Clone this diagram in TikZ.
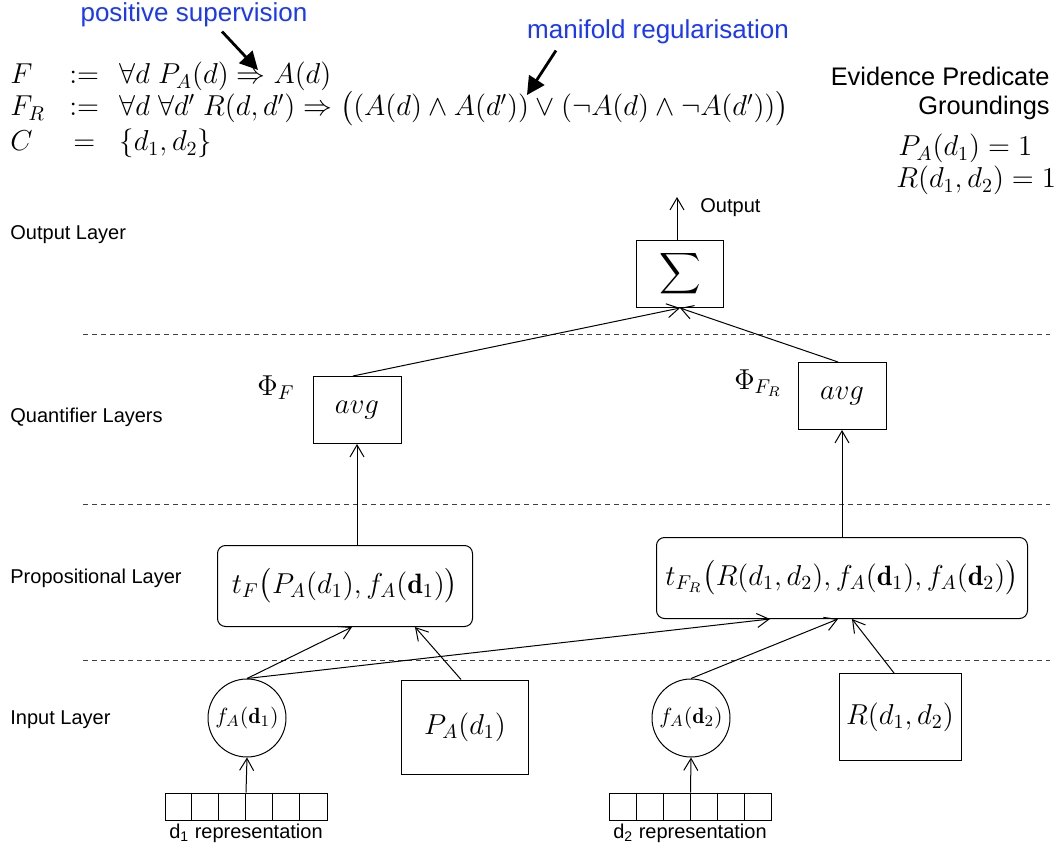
\documentclass[tikz,border=0pt]{standalone}
\usepackage{fontspec}
\usepackage{amsmath}
\usetikzlibrary{arrows.meta,positioning}
\newfontfamily\labfont{Liberation Sans}
\definecolor{annoblue}{RGB}{25,55,255}
\newcommand\labtext{\labfont\fontsize{10}{12}\selectfont}
\newcommand\annotext{\labfont\fontsize{13}{15}\selectfont}
\newcommand\mathtext{\fontsize{14}{16}\selectfont}
\newcommand\formtext{\fontsize{14.6}{17}\selectfont}

\begin{document}
\begin{tikzpicture}[x=0.5pt,y=-0.5pt,
  layer/.style={font=\labtext, anchor=west, inner sep=0pt},
  sep/.style={black!75, line width=0.5pt, dash pattern=on 2.5pt off 2pt},
  sqbox/.style={draw, line width=0.5pt, inner sep=0pt, font=\mathtext},
  tbox/.style={sqbox, rounded corners=4pt, minimum height=40.5pt},
  unit/.style={draw, circle, line width=0.5pt, inner sep=0pt, minimum size=39pt, font=\fontsize{11}{13}\selectfont},
  vecbox/.style={draw, line width=0.5pt, minimum width=81pt, minimum height=13.5pt, inner sep=0pt},
  conn/.style={-{Straight Barb[length=6pt,width=7pt]}, line width=0.5pt},
  anno/.style={-{Triangle[length=9pt,width=9pt]}, line width=1.4pt},
  form/.style={anchor=base west, inner sep=0pt, font=\formtext, text height=0.7em, text depth=0.2em}]

\useasboundingbox (0,0) rectangle (1056,850);

% layer names and separators
\node[layer] (lout) at (10,235) {Output Layer};
\node[layer] (lquant) at (10,417) {Quantifier Layers};
\node[layer] (lprop) at (10,578) {Propositional Layer};
\node[layer] (linp) at (10,720) {Input Layer};
\foreach \y in {335,505,660} \draw[sep] (83,\y) -- (1050,\y);

% the formulas
\node[form] (f1a) at (10,84) {$F$};
\node[form] (f1b) at (69,84) {$:=$};
\node[form] (f1c) at (119,84) {$\forall d\;P_A(d)\Rightarrow A(d)$};
\node[form] (f2a) at (10,116) {$F_R$};
\node[form] (f2b) at (69,116) {$:=$};
\node[form] (f2c) at (119,116) {$\forall d\;\forall d'\;R(d,d')\Rightarrow\big((A(d)\wedge A(d'))\vee(\neg A(d)\wedge\neg A(d'))\big)$};
\node[form] (f3a) at (10,151) {$C$};
\node[form] (f3b) at (73,151) {$=$};
\node[form] (f3c) at (119,151) {$\{d_1,d_2\}$};

\node[anchor=base east, inner sep=0pt, font=\labfont\fontsize{12.7}{14}\selectfont] (ev1) at (1050,86) {Evidence Predicate};
\node[anchor=base east, inner sep=0pt, font=\labfont\fontsize{12.7}{14}\selectfont] (ev2) at (1050,115) {Groundings};
\node[form, font=\mathtext] (g1) at (898,156) {$P_A(d_1)=1$};
\node[form, font=\mathtext] (g2) at (896,188) {$R(d_1,d_2)=1$};

% notes
\node[text=annoblue, font=\annotext, inner sep=0pt] (ps) at (194,15) {positive supervision};
\node[text=annoblue, font=\annotext, inner sep=0pt] (mr) at (658,32) {manifold regularisation};
\coordinate (pstip) at (258,70);
\coordinate (mrtip) at (527,95);
\draw[anno] ([xshift=14pt,yshift=-2pt]ps.south) -- (pstip);
\draw[anno] ([xshift=-51pt,yshift=-3pt]mr.south) -- (mrtip);

% network
\node[sqbox, minimum width=43.5pt, minimum height=33.5pt] (sigma) at (680,274) {$\displaystyle\sum$};
\coordinate (out) at ([xshift=-1.5pt,yshift=21.5pt]sigma.north);
\node[layer] (outlbl) at (700,208) {Output};

\node[sqbox, minimum width=44pt, minimum height=33.5pt] (avgF) at (357,410) {$avg$};
\node[sqbox, minimum width=44pt, minimum height=33.5pt] (avgFR) at (842,396) {$avg$};
\node[font=\mathtext] (phiF) at (276,388) {$\Phi_F$};
\node[font=\mathtext] (phiFR) at (758,383) {$\Phi_{F_R}$};

\node[tbox, minimum width=127.5pt] (tF) at (345,586) {$t_F\big(P_A(d_1),f_A(\mathbf{d}_1)\big)$};
\node[tbox, minimum width=185.5pt] (tFR) at (842,578) {$t_{F_R}\big(R(d_1,d_2),f_A(\mathbf{d}_1),f_A(\mathbf{d}_2)\big)$};

\node[unit] (c1) at (247,718) {$f_A(\mathbf{d}_1)$};
\node[unit] (c2) at (691,718) {$f_A(\mathbf{d}_2)$};
\node[sqbox, minimum width=63.5pt, minimum height=47pt] (pa) at (465,727) {$P_A(d_1)$};
\node[sqbox, minimum width=61pt, minimum height=43.5pt] (rr) at (900,717) {$R(d_1,d_2)$};

\node[vecbox] (rep1) at (246,806.5) {};
\node[vecbox] (rep2) at (690.5,806.5) {};
\foreach \r in {rep1,rep2}
  \foreach \i in {1,...,5}
    \draw[line width=0.5pt] ([xshift=\i*13.5pt]\r.north west) -- ([xshift=\i*13.5pt]\r.south west);
\node[font=\labtext] (rl1) at (246,833) {d\textsubscript{1} representation};
\node[font=\labtext] (rl2) at (690,833) {d\textsubscript{2} representation};

% connections
\draw[conn] (rep1.north) -- (c1.south);
\draw[conn] (rep2.north) -- (c2.south);
\draw[conn] (c1.north) -- ([xshift=3.5pt]tF.south);
\draw[conn] ([xshift=-2pt]pa.north) -- ([xshift=35pt]tF.south);
\draw[conn] (c1.north) -- ([xshift=-36pt]tFR.south);
\draw[conn] (c2.north) -- ([xshift=-2pt]tFR.south);
\draw[conn] ([xshift=-3pt]rr.north) -- ([xshift=5pt]tFR.south);
\draw[conn] (tF.north -| avgF.south) -- (avgF.south);
\draw[conn] (tFR.north -| avgFR.south) -- (avgFR.south);
\draw[conn] ([xshift=-2pt]avgF.north) -- (sigma.south);
\draw[conn] ([xshift=-2pt]avgFR.north) -- (sigma.south);
\draw[conn] ([xshift=-1.5pt]sigma.north) -- (out);
\end{tikzpicture}
\end{document}
